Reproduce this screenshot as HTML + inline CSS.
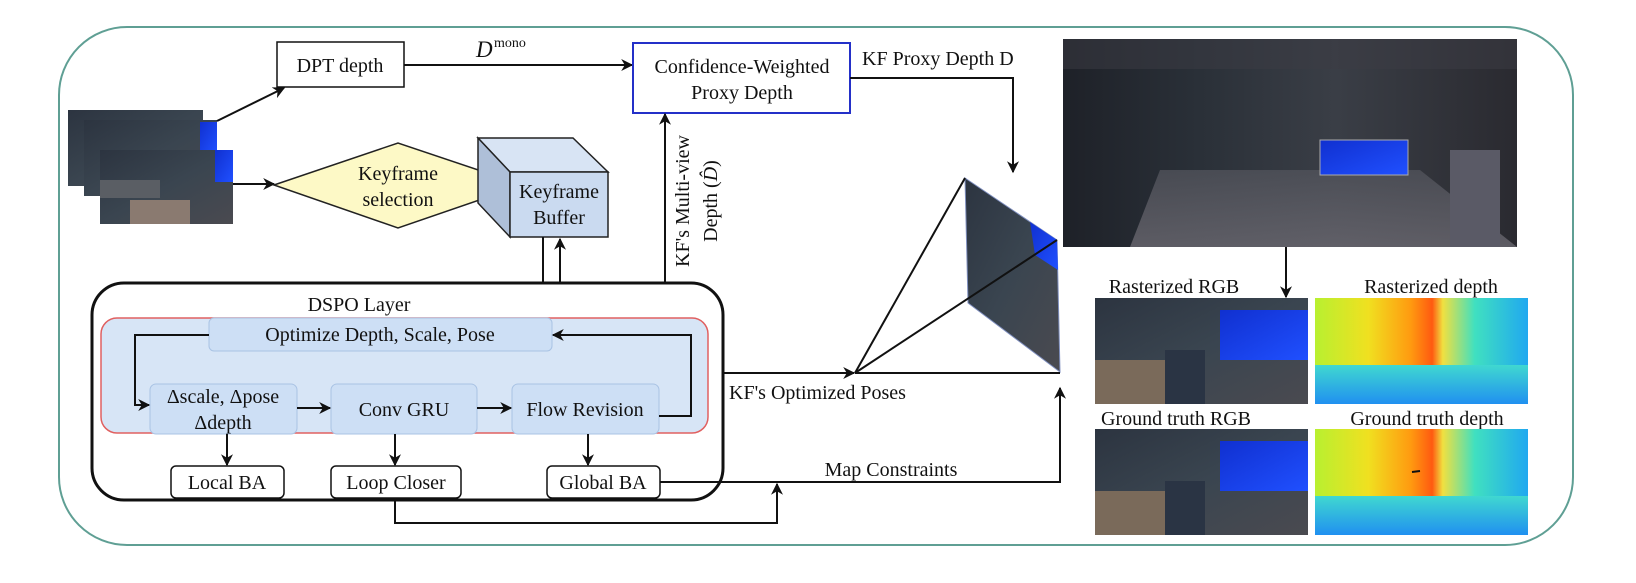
<!DOCTYPE html>
<html><head><meta charset="utf-8"><style>
html,body{margin:0;padding:0;background:#fff;}
svg text{font-family:"Liberation Serif","Times New Roman",Times,serif;font-size:20px;fill:#111;}
</style></head><body>
<svg width="1636" height="578" viewBox="0 0 1636 578" xmlns="http://www.w3.org/2000/svg">
<defs>
<marker id="ah" viewBox="0 0 10 10" refX="9" refY="5" markerWidth="13" markerHeight="12" orient="auto-start-reverse" markerUnits="userSpaceOnUse">
<path d="M0,0 L10,5 L0,10 L3,5 z" fill="#111"/></marker>
<linearGradient id="dark" x1="0" y1="0" x2="1" y2="1">
<stop offset="0" stop-color="#2c3440"/><stop offset="0.5" stop-color="#3a4550"/><stop offset="1" stop-color="#4a4a50"/></linearGradient>
<linearGradient id="big" x1="0" y1="0" x2="1" y2="0">
<stop offset="0" stop-color="#1e2128"/><stop offset="0.3" stop-color="#2a3038"/><stop offset="0.6" stop-color="#3a3e46"/><stop offset="1" stop-color="#2a2a30"/></linearGradient>
<linearGradient id="floor" x1="0" y1="0" x2="0" y2="1">
<stop offset="0" stop-color="#50525a"/><stop offset="1" stop-color="#6a6870"/></linearGradient>
<linearGradient id="depth" x1="0" y1="0" x2="1" y2="0">
<stop offset="0" stop-color="#b8f030"/><stop offset="0.25" stop-color="#f0e020"/><stop offset="0.45" stop-color="#ff9a10"/><stop offset="0.55" stop-color="#ff5a10"/><stop offset="0.6" stop-color="#f0e040"/><stop offset="0.75" stop-color="#40e0c0"/><stop offset="1" stop-color="#20a8f0"/></linearGradient>
<linearGradient id="dbot" x1="0" y1="0" x2="0" y2="1">
<stop offset="0" stop-color="#40d8d0"/><stop offset="1" stop-color="#2090f0"/></linearGradient>
<linearGradient id="scr" x1="0" y1="0" x2="1" y2="1">
<stop offset="0" stop-color="#1030d0"/><stop offset="1" stop-color="#2050ff"/></linearGradient>
</defs>

<rect x="59" y="27" width="1514" height="518" rx="68" ry="68" fill="none" stroke="#5f9f94" stroke-width="2"/>

<g>
<rect x="68" y="110" width="135" height="76" fill="url(#dark)"/>
<rect x="84" y="120" width="133" height="76" fill="url(#dark)"/>
<rect x="200" y="122" width="17" height="30" fill="url(#scr)"/>
<rect x="100" y="150" width="133" height="74" fill="url(#dark)"/>
<rect x="215" y="150" width="18" height="32" fill="url(#scr)"/>
<rect x="130" y="200" width="60" height="24" fill="#8a7a70"/>
<rect x="100" y="180" width="60" height="18" fill="#5a5e64"/>
</g>
<line x1="217" y1="121" x2="284" y2="88" stroke="#111" stroke-width="2" marker-end="url(#ah)"/>
<line x1="233" y1="184" x2="274" y2="184" stroke="#111" stroke-width="2" marker-end="url(#ah)"/>

<rect x="277" y="42" width="127" height="45" fill="#fff" stroke="#111" stroke-width="1.5"/>
<text x="340" y="72" text-anchor="middle">DPT depth</text>
<line x1="404" y1="65" x2="632" y2="65" stroke="#111" stroke-width="2" marker-end="url(#ah)"/>
<text x="476" y="57" font-style="italic" style="font-size:23px">D</text><text x="494" y="47" style="font-size:14px">mono</text>

<rect x="633" y="43" width="217" height="70" fill="#fff" stroke="#2430c8" stroke-width="2"/>
<text x="742" y="73" text-anchor="middle">Confidence-Weighted</text>
<text x="742" y="99" text-anchor="middle">Proxy Depth</text>
<text x="862" y="65">KF Proxy Depth D</text>
<polyline points="850,78 1013,78 1013,172" fill="none" stroke="#111" stroke-width="2" marker-end="url(#ah)"/>

<polygon points="274,185 398,143 523,185 398,228" fill="#fdf9c6" stroke="#222" stroke-width="1.5"/>
<text x="398" y="180" text-anchor="middle">Keyframe</text>
<text x="398" y="206" text-anchor="middle">selection</text>
<line x1="523" y1="185" x2="508" y2="185" stroke="#111" stroke-width="2" marker-end="url(#ah)"/>

<polygon points="478,138 573,138 608,172 510,172" fill="#d8e4f4" stroke="#222" stroke-width="1.5"/>
<polygon points="478,138 510,172 510,237 478,203" fill="#aebfd8" stroke="#222" stroke-width="1.5"/>
<rect x="510" y="172" width="98" height="65" fill="#cadaf0" stroke="#222" stroke-width="1.5"/>
<text x="559" y="198" text-anchor="middle">Keyframe</text>
<text x="559" y="224" text-anchor="middle">Buffer</text>
<line x1="543" y1="237" x2="543" y2="283" stroke="#111" stroke-width="2"/>
<line x1="560" y1="283" x2="560" y2="239" stroke="#111" stroke-width="2" marker-end="url(#ah)"/>

<line x1="665" y1="283" x2="665" y2="114" stroke="#111" stroke-width="2" marker-end="url(#ah)"/>
<text transform="translate(689,201) rotate(-90)" text-anchor="middle">KF's Multi-view</text>
<text transform="translate(717,201) rotate(-90)" text-anchor="middle">Depth (<tspan font-style="italic">D̂</tspan>)</text>

<rect x="92" y="283" width="631" height="217" rx="32" ry="32" fill="#fff" stroke="#111" stroke-width="3"/>
<text x="359" y="311" text-anchor="middle">DSPO Layer</text>
<rect x="101" y="318" width="607" height="115" rx="16" ry="16" fill="#d7e5f6" stroke="#e06060" stroke-width="1.5"/>
<rect x="209" y="318" width="343" height="33" rx="5" fill="#cddff5" stroke="#a9c3e4" stroke-width="1"/>
<text x="380" y="341" text-anchor="middle">Optimize Depth, Scale, Pose</text>
<rect x="150" y="384" width="147" height="50" rx="6" fill="#cddff5" stroke="#a9c3e4"/>
<text x="223" y="403" text-anchor="middle">Δscale, Δpose</text>
<text x="223" y="429" text-anchor="middle">Δdepth</text>
<rect x="331" y="384" width="146" height="50" rx="6" fill="#cddff5" stroke="#a9c3e4"/>
<text x="404" y="416" text-anchor="middle">Conv GRU</text>
<rect x="512" y="384" width="147" height="50" rx="6" fill="#cddff5" stroke="#a9c3e4"/>
<text x="585" y="416" text-anchor="middle">Flow Revision</text>
<line x1="297" y1="408" x2="330" y2="408" stroke="#111" stroke-width="2" marker-end="url(#ah)"/>
<line x1="477" y1="408" x2="511" y2="408" stroke="#111" stroke-width="2" marker-end="url(#ah)"/>
<polyline points="659,416 691,416 691,335 553,335" fill="none" stroke="#111" stroke-width="2" marker-end="url(#ah)"/>
<polyline points="209,335 135,335 135,405 149,405" fill="none" stroke="#111" stroke-width="2" marker-end="url(#ah)"/>
<line x1="227" y1="434" x2="227" y2="465" stroke="#111" stroke-width="2" marker-end="url(#ah)"/>
<line x1="395" y1="434" x2="395" y2="465" stroke="#111" stroke-width="2" marker-end="url(#ah)"/>
<line x1="588" y1="434" x2="588" y2="465" stroke="#111" stroke-width="2" marker-end="url(#ah)"/>
<rect x="171" y="466" width="113" height="32" rx="5" fill="#fff" stroke="#111" stroke-width="1.5"/>
<text x="227" y="489" text-anchor="middle">Local BA</text>
<rect x="331" y="466" width="130" height="32" rx="5" fill="#fff" stroke="#111" stroke-width="1.5"/>
<text x="396" y="489" text-anchor="middle">Loop Closer</text>
<rect x="547" y="466" width="113" height="32" rx="5" fill="#fff" stroke="#111" stroke-width="1.5"/>
<text x="603" y="489" text-anchor="middle">Global BA</text>

<polyline points="660,482 1060,482 1060,388" fill="none" stroke="#111" stroke-width="2" marker-end="url(#ah)"/>
<text x="891" y="476" text-anchor="middle">Map Constraints</text>
<polyline points="395,498 395,523 777,523 777,484" fill="none" stroke="#111" stroke-width="2" marker-end="url(#ah)"/>

<line x1="723" y1="373" x2="854" y2="373" stroke="#111" stroke-width="2" marker-end="url(#ah)"/>
<text x="729" y="399">KF's Optimized Poses</text>

<polygon points="965,178 1057,240 1060,372 968,303" fill="url(#dark)" stroke="#8090c0" stroke-width="1"/>
<polygon points="1030,222 1057,240 1058,270 1035,255" fill="url(#scr)"/>
<line x1="855" y1="373" x2="965" y2="178" stroke="#111" stroke-width="2"/>
<line x1="855" y1="373" x2="1057" y2="240" stroke="#111" stroke-width="2"/>
<line x1="855" y1="373" x2="1060" y2="373" stroke="#111" stroke-width="2"/>

<rect x="1063" y="39" width="454" height="208" fill="url(#big)"/>
<polygon points="1160,170 1420,170 1517,247 1130,247" fill="url(#floor)" opacity="0.8"/>
<rect x="1320" y="140" width="88" height="35" fill="url(#scr)" stroke="#aaa"/>
<rect x="1450" y="150" width="50" height="97" fill="#5a5a66"/>
<rect x="1063" y="39" width="454" height="30" fill="#3c3c44" opacity="0.5"/>
<line x1="1286" y1="247" x2="1286" y2="297" stroke="#111" stroke-width="2" marker-end="url(#ah)"/>

<text x="1174" y="293" text-anchor="middle">Rasterized RGB</text>
<text x="1431" y="293" text-anchor="middle">Rasterized depth</text>
<text x="1176" y="425" text-anchor="middle">Ground truth RGB</text>
<text x="1427" y="425" text-anchor="middle">Ground truth depth</text>

<rect x="1095" y="298" width="213" height="106" fill="url(#dark)"/>
<rect x="1220" y="310" width="88" height="50" fill="url(#scr)"/>
<rect x="1095" y="360" width="70" height="44" fill="#7a6a5a"/>
<rect x="1165" y="350" width="40" height="54" fill="#2a3444"/>
<rect x="1095" y="429" width="213" height="106" fill="url(#dark)"/>
<rect x="1220" y="441" width="88" height="50" fill="url(#scr)"/>
<rect x="1095" y="491" width="70" height="44" fill="#7a6a5a"/>
<rect x="1165" y="481" width="40" height="54" fill="#2a3444"/>

<rect x="1315" y="298" width="213" height="106" fill="url(#depth)"/>
<rect x="1315" y="365" width="213" height="39" fill="url(#dbot)"/>
<rect x="1315" y="429" width="213" height="106" fill="url(#depth)"/>
<rect x="1315" y="496" width="213" height="39" fill="url(#dbot)"/>
<line x1="1412" y1="472" x2="1420" y2="471" stroke="#111" stroke-width="2"/>
</svg>
</body></html>
